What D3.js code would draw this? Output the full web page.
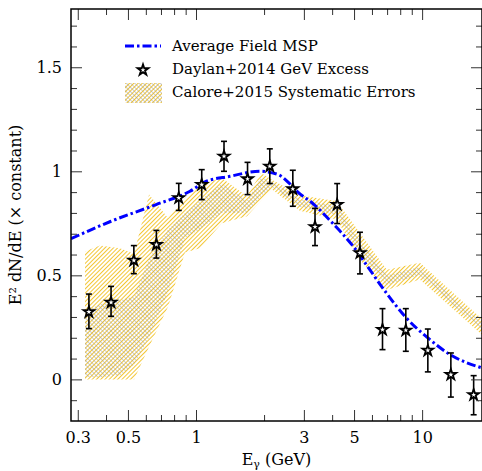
<!DOCTYPE html>
<html>
<head>
<meta charset="utf-8">
<script src="https://cdn.jsdelivr.net/npm/d3@7"></script>
<style>
  body { margin: 0; background: #fff; }
  text { font-family: "DejaVu Serif", serif; fill: #000; }
</style>
</head>
<body>
<svg id="chart" width="482" height="471"></svg>
<script>
// Daylan+2014 GeV excess points
const daylanE   = [0.336, 0.421, 0.531, 0.668, 0.839, 1.06, 1.33, 1.69, 2.12, 2.68, 3.36, 4.21, 5.31, 6.68, 8.47, 10.6, 13.4, 16.9];
const daylanVal = [0.324, 0.37, 0.572, 0.648, 0.872, 0.936, 1.072, 0.963, 1.024, 0.915, 0.733, 0.84, 0.608, 0.239, 0.236, 0.139, 0.023, -0.074];
const daylanLo  = [0.244, 0.303, 0.508, 0.583, 0.812, 0.864, 1.0, 0.888, 0.941, 0.832, 0.643, 0.749, 0.507, 0.143, 0.135, 0.036, -0.085, -0.17];
const daylanHi  = [0.41, 0.447, 0.643, 0.716, 0.942, 1.008, 1.144, 1.043, 1.108, 1.005, 0.822, 0.941, 0.707, 0.34, 0.34, 0.242, 0.127, 0.018];

// average field MSP spectrum
const mspE   = [0.28, 0.421, 0.666, 0.941, 1.096, 1.413, 1.918, 2.3, 2.6, 2.79, 3.3, 4.04, 4.96, 5.87, 6.96, 8.39, 10.8, 13.3, 18.4];
const mspVal = [0.676, 0.76, 0.84, 0.904, 0.949, 0.976, 1.0, 0.985, 0.94, 0.905, 0.844, 0.748, 0.639, 0.527, 0.414, 0.303, 0.192, 0.119, 0.055];

// Calore+2015 systematic band
const bandE    = [0.323, 0.376, 0.461, 0.532, 0.62, 0.752, 0.894, 1.04, 1.3, 1.68, 1.94, 2.17, 2.88, 4.2, 5.3, 6.98, 9.77, 18.4];
const yellowLo = [0, 0, 0, 0, 0.157, 0.349, 0.61, 0.63, 0.75, 0.784, 0.86, 0.912, 0.81, 0.768, 0.575, 0.43, 0.48, 0.215];
const yellowHi = [0.614, 0.643, 0.63, 0.604, 0.888, 0.776, 0.87, 0.935, 0.968, 0.88, 0.992, 0.96, 0.885, 0.856, 0.705, 0.527, 0.56, 0.29];
const greyLo   = [0.01, 0.01, 0.02, 0.07, 0.2, 0.42, 0.68, 0.72, 0.8, 0.8, 0.88, 0.925, 0.83, 0.79, 0.61, 0.455, 0.5, 0.235];
const greyHi   = [0.33, 0.36, 0.38, 0.40, 0.58, 0.72, 0.8, 0.86, 0.94, 0.86, 0.97, 0.95, 0.865, 0.835, 0.67, 0.5, 0.54, 0.27];

const xMajor = [0.3, 0.5, 1, 3, 5, 10];
const xMinor = [0.4, 0.6, 0.7, 0.8, 0.9, 2, 4, 6, 7, 8, 9];
const yMajor = [0, 0.5, 1, 1.5];

const pLeft = 71, pRight = 482, pTop = 9, pBottom = 421;

const svg = d3.select('#chart');

const x = d3.scaleLog().domain([0.28, 18.4]).range([pLeft, pRight]);
const y = d3.scaleLinear().domain([-0.2, 1.78]).range([pBottom, pTop]);

const yMinor = d3.range(-0.1, 1.75, 0.1).map(v => Math.round(v * 10) / 10).filter(v => !yMajor.includes(v));

// hatch patterns
const defs = svg.append('defs');
function hatch(id, color, angle, width, gap) {
  const p = defs.append('pattern')
    .attr('id', id)
    .attr('patternUnits', 'userSpaceOnUse')
    .attr('width', gap).attr('height', gap)
    .attr('patternTransform', `rotate(${angle})`);
  p.append('line')
    .attr('x1', 0).attr('y1', 0).attr('x2', 0).attr('y2', gap)
    .attr('stroke', color).attr('stroke-width', width);
}
hatch('yellowHatch', '#f0b800', 45, 1.6, 3);
hatch('greyHatch', '#999999', -45, 1, 3);

defs.append('clipPath').attr('id', 'plotClip')
  .append('rect').attr('x', pLeft).attr('y', pTop).attr('width', pRight - pLeft).attr('height', pBottom - pTop);

const plot = svg.append('g').attr('clip-path', 'url(#plotClip)');

const bandData = bandE.map((e, i) => ({e, ylo: yellowLo[i], yhi: yellowHi[i], glo: greyLo[i], ghi: greyHi[i]}));

plot.append('path')
  .datum(bandData)
  .attr('fill', 'url(#yellowHatch)')
  .attr('d', d3.area().x(d => x(d.e)).y0(d => y(d.ylo)).y1(d => y(d.yhi)));

plot.append('path')
  .datum(bandData)
  .attr('fill', 'url(#greyHatch)')
  .attr('d', d3.area().x(d => x(d.e)).y0(d => y(d.glo)).y1(d => y(d.ghi)));

// MSP curve
const mspData = mspE.map((e, i) => ({e, v: mspVal[i]}));
plot.append('path')
  .datum(mspData)
  .attr('fill', 'none')
  .attr('stroke', '#0000ff')
  .attr('stroke-width', 3)
  .attr('stroke-dasharray', '9,3,2.5,3')
  .attr('d', d3.line().curve(d3.curveMonotoneX).x(d => x(d.e)).y(d => y(d.v)));

// error bars + stars
const pts = daylanE.map((e, i) => ({e, v: daylanVal[i], lo: daylanLo[i], hi: daylanHi[i]}));
const eb = plot.selectAll('.err').data(pts).enter().append('g').attr('class', 'err')
  .attr('stroke', '#000').attr('stroke-width', 1.6);
eb.append('line')
  .attr('x1', d => x(d.e)).attr('x2', d => x(d.e))
  .attr('y1', d => y(d.lo)).attr('y2', d => y(d.hi));
eb.append('line')
  .attr('x1', d => x(d.e) - 3).attr('x2', d => x(d.e) + 3)
  .attr('y1', d => y(d.lo)).attr('y2', d => y(d.lo));
eb.append('line')
  .attr('x1', d => x(d.e) - 3).attr('x2', d => x(d.e) + 3)
  .attr('y1', d => y(d.hi)).attr('y2', d => y(d.hi));

const star = d3.symbol().type(d3.symbolStar).size(36);
plot.selectAll('.star').data(pts).enter().append('path')
  .attr('class', 'star')
  .attr('transform', d => `translate(${x(d.e)},${y(d.v)})`)
  .attr('d', star)
  .attr('fill', '#fff')
  .attr('stroke', '#000')
  .attr('stroke-width', 1.8)
  .attr('stroke-linejoin', 'miter');

// axes: ticks point inward on all four sides
function styleAxis(g) {
  g.select('.domain').remove();
  g.selectAll('.tick line').attr('stroke', '#333').attr('stroke-width', 1);
  g.selectAll('.tick text').style('font-family', '"DejaVu Serif", serif').style('font-size', '16px');
}

svg.append('g').attr('transform', `translate(0,${pBottom})`)
  .call(d3.axisBottom(x).tickValues(xMajor).tickSizeInner(-11).tickSizeOuter(0).tickPadding(11).tickFormat(d3.format('')))
  .call(styleAxis);
svg.append('g').attr('transform', `translate(0,${pBottom})`)
  .call(d3.axisBottom(x).tickValues(xMinor).tickSizeInner(-6).tickSizeOuter(0).tickFormat(''))
  .call(styleAxis);
svg.append('g').attr('transform', `translate(0,${pTop})`)
  .call(d3.axisTop(x).tickValues(xMajor).tickSizeInner(-11).tickSizeOuter(0).tickFormat(''))
  .call(styleAxis);
svg.append('g').attr('transform', `translate(0,${pTop})`)
  .call(d3.axisTop(x).tickValues(xMinor).tickSizeInner(-6).tickSizeOuter(0).tickFormat(''))
  .call(styleAxis);

svg.append('g').attr('transform', `translate(${pLeft},0)`)
  .call(d3.axisLeft(y).tickValues(yMajor).tickSizeInner(-11).tickSizeOuter(0).tickPadding(9).tickFormat(d3.format('')))
  .call(styleAxis);
svg.append('g').attr('transform', `translate(${pLeft},0)`)
  .call(d3.axisLeft(y).tickValues(yMinor).tickSizeInner(-6).tickSizeOuter(0).tickFormat(''))
  .call(styleAxis);
svg.append('g').attr('transform', `translate(${pRight},0)`)
  .call(d3.axisRight(y).tickValues(yMajor).tickSizeInner(-11).tickSizeOuter(0).tickFormat(''))
  .call(styleAxis);
svg.append('g').attr('transform', `translate(${pRight},0)`)
  .call(d3.axisRight(y).tickValues(yMinor).tickSizeInner(-6).tickSizeOuter(0).tickFormat(''))
  .call(styleAxis);

// frame
svg.append('rect')
  .attr('x', pLeft).attr('y', pTop).attr('width', pRight - pLeft).attr('height', pBottom - pTop)
  .attr('fill', 'none').attr('stroke', '#000').attr('stroke-width', 1.5);

// axis titles
const xt = svg.append('text').attr('x', (pLeft + pRight) / 2).attr('y', 465)
  .attr('text-anchor', 'middle').style('font-size', '16px');
xt.append('tspan').text('E');
xt.append('tspan').attr('dy', 3).style('font-size', '11px').text('γ');
xt.append('tspan').attr('dy', -3).text(' (GeV)');

svg.append('text')
  .attr('transform', `translate(21,${(pTop + pBottom) / 2}) rotate(-90)`)
  .attr('text-anchor', 'middle').style('font-size', '16px')
  .text('E² dN/dE (× constant)');

// legend
const lg = svg.append('g');
const lx0 = 125, lx1 = 161, tx = 172;
lg.append('line').attr('x1', lx0).attr('x2', lx1).attr('y1', 46).attr('y2', 46)
  .attr('stroke', '#0000ff').attr('stroke-width', 3).attr('stroke-dasharray', '9,3,2.5,3');
lg.append('path').attr('transform', `translate(${(lx0 + lx1) / 2},70)`).attr('d', star)
  .attr('fill', '#fff').attr('stroke', '#000').attr('stroke-width', 1.8);
lg.append('rect').attr('x', lx0).attr('y', 83).attr('width', lx1 - lx0 + 1).attr('height', 20).attr('fill', 'url(#yellowHatch)');
lg.append('rect').attr('x', lx0).attr('y', 83).attr('width', lx1 - lx0 + 1).attr('height', 20).attr('fill', 'url(#greyHatch)');
const labels = ['Average Field MSP', 'Daylan+2014 GeV Excess', 'Calore+2015 Systematic Errors'];
lg.selectAll('.lt').data(labels).enter().append('text')
  .attr('x', tx).attr('y', (d, i) => 51 + i * 23)
  .style('font-size', '15px')
  .text(d => d);
</script>
</body>
</html>
